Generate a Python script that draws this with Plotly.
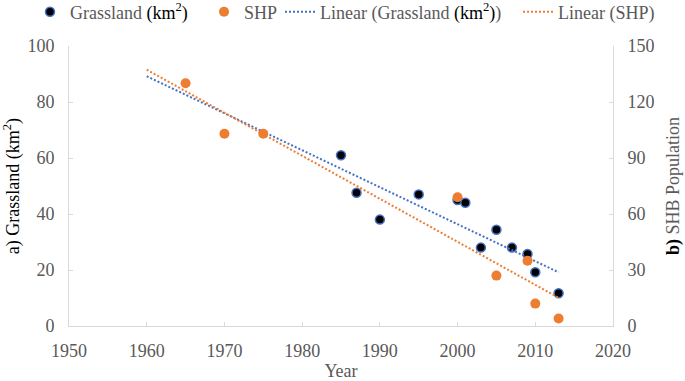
import numpy as np
import plotly.graph_objects as go

# Data
grass_years = [1985, 1987, 1990, 1995, 2000, 2001, 2003, 2005, 2007, 2009, 2010, 2013]
grass_km2 = [61.0, 47.6, 38.0, 47.0, 45.0, 44.0, 28.0, 34.4, 28.0, 25.7, 19.2, 11.7]

shp_years = [1965, 1970, 1975, 2000, 2005, 2009, 2010, 2013]
shp_pop = [130, 103, 103, 69, 27, 35, 12, 4]

# Excel trendline span (with backward forecast)
trend_years = [1960, 2013]

x_ticks = [1950, 1960, 1970, 1980, 1990, 2000, 2010, 2020]
y1_ticks = [0, 20, 40, 60, 80, 100]
y2_ticks = [0, 30, 60, 90, 120, 150]

g_fit = np.polyfit(grass_years, grass_km2, 1)
s_fit = np.polyfit(shp_years, shp_pop, 1)
g_line = np.polyval(g_fit, trend_years)
s_line = np.polyval(s_fit, trend_years)

GRAY = "#595959"
BLUE = "#4472C4"
ORANGE = "#ED7D31"
FONT = "Liberation Serif"
FS = 18

fig = go.Figure()
fig.add_trace(go.Scatter(
    x=grass_years, y=grass_km2, mode="markers",
    name="Grassland <span style='color:black'>(km<sup>2</sup>)</span>",
    marker=dict(color="black", size=9, line=dict(color=BLUE, width=1.5)),
    cliponaxis=False, yaxis="y", legend="legend"))
fig.add_trace(go.Scatter(
    x=shp_years, y=shp_pop, mode="markers", name="SHP",
    marker=dict(color=ORANGE, size=10),
    cliponaxis=False, yaxis="y2", legend="legend2"))
fig.add_trace(go.Scatter(
    x=trend_years, y=g_line, mode="lines",
    name="Linear (Grassland <span style='color:black'>(km<sup>2</sup>)</span>)",
    line=dict(color=BLUE, width=2, dash="2px,2px"), yaxis="y", legend="legend3"))
fig.add_trace(go.Scatter(
    x=trend_years, y=s_line, mode="lines", name="Linear (SHP)",
    line=dict(color=ORANGE, width=2, dash="2px,2px"), yaxis="y2", legend="legend4"))

axis_common = dict(showline=True, linecolor="#d9d9d9", linewidth=1,
                   ticks="inside", ticklen=4, tickcolor="#d9d9d9",
                   showgrid=False, zeroline=False, automargin=False,
                   tickfont=dict(family=FONT, size=FS, color=GRAY))

legend_common = dict(orientation="h", xref="paper", yref="paper",
                     y=1.1214, xanchor="left", yanchor="middle",
                     font=dict(family=FONT, size=FS, color=GRAY),
                     traceorder="normal", itemwidth=30,
                     bgcolor="rgba(0,0,0,0)")

fig.update_layout(
    width=685, height=381,
    margin=dict(l=69, r=72, t=46, b=55, autoexpand=False),
    paper_bgcolor="white", plot_bgcolor="white",
    font=dict(family=FONT, size=FS, color=GRAY),
    showlegend=True,
    legend=dict(x=-0.0717, **legend_common),
    legend2=dict(x=0.2482, **legend_common),
    legend3=dict(x=0.3879, **legend_common),
    legend4=dict(x=0.8254, **legend_common),
    xaxis=dict(range=[1950, 2020], tickvals=x_ticks, **axis_common,
               ticklabelstandoff=8,
               title=dict(text="Year", font=dict(family=FONT, size=FS, color=GRAY), standoff=15)),
    yaxis=dict(range=[0, 100], tickvals=y1_ticks, **axis_common,
               ticklabelstandoff=10,
               title=dict(text="a) Grassland (km<sup>2</sup>)",
                          font=dict(family=FONT, size=FS, color="black"), standoff=8)),
    yaxis2=dict(range=[0, 150], tickvals=y2_ticks, overlaying="y", side="right",
                **axis_common, ticklabelstandoff=10,
                title=dict(text="<b style='color:black'>b)</b> SHB Population",
                           font=dict(family=FONT, size=FS, color=GRAY), standoff=12)),
)

fig.write_html("out.html", config={"displayModeBar": False},
               post_script="document.body.style.margin='0px';")
